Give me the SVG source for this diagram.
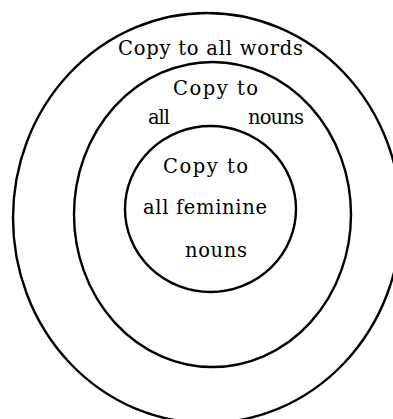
<svg xmlns="http://www.w3.org/2000/svg" width="393" height="419" viewBox="0 0 393 419">
<style>
.ring{fill:none;stroke:#000;stroke-width:2.4}
.lbl{font-family:"DejaVu Serif","Liberation Serif",serif;font-size:19.5px;fill:#000}
</style>
<rect width="393" height="419" fill="#fff"/>
<g id="all-words">
<ellipse class="ring" cx="207" cy="218" rx="194" ry="205"/>
<text class="lbl" x="118" y="55" textLength="185" lengthAdjust="spacing">Copy to all words</text>
</g>
<g id="all-nouns">
<ellipse class="ring" cx="212.5" cy="214.5" rx="138.5" ry="152.5"/>
<text class="lbl" x="173" y="95" textLength="85" lengthAdjust="spacing">Copy to</text>
<text class="lbl" x="148" y="124" textLength="22" lengthAdjust="spacing">all</text>
<text class="lbl" x="248" y="124" textLength="56" lengthAdjust="spacing">nouns</text>
</g>
<g id="all-feminine-nouns">
<ellipse class="ring" cx="210.5" cy="209" rx="85.5" ry="83"/>
<text class="lbl" x="163" y="173" textLength="85" lengthAdjust="spacing">Copy to</text>
<text class="lbl" x="143" y="214" textLength="124" lengthAdjust="spacing">all feminine</text>
<text class="lbl" x="185" y="257" textLength="62" lengthAdjust="spacing">nouns</text>
</g>
<g id="connectors"/>
</svg>
